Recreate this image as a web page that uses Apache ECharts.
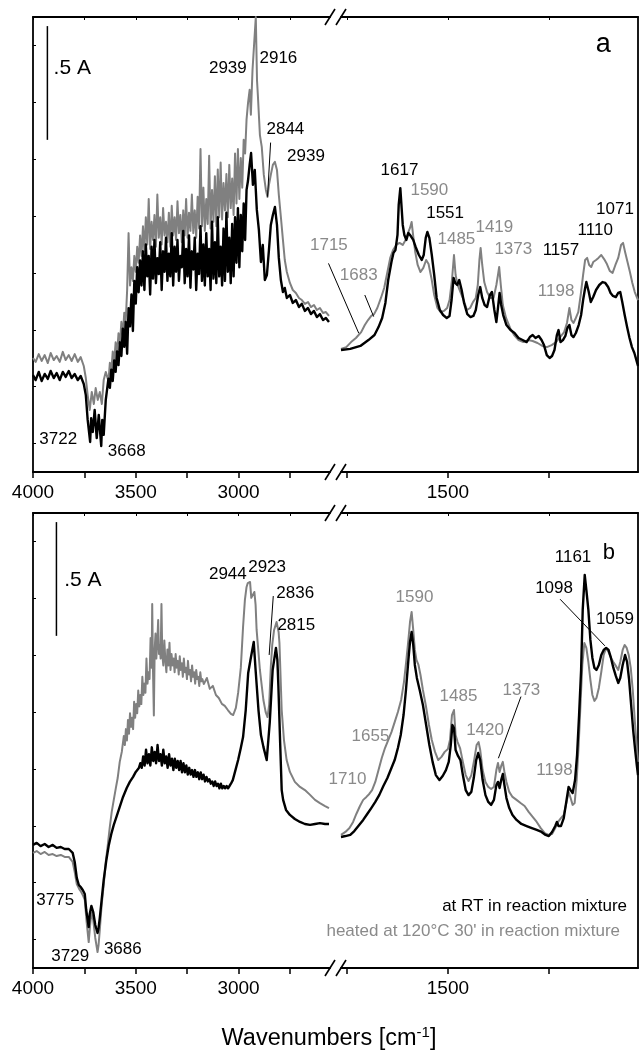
<!DOCTYPE html>
<html>
<head>
<meta charset="utf-8">
<script src="https://cdn.jsdelivr.net/npm/echarts@6/dist/echarts.min.js"></script>
<style>
  html, body { margin: 0; padding: 0; background: #fff; }
  #chart { width: 639px; height: 1055px; }
</style>
</head>
<body>
<div id="chart"></div>
<script>
// ---------------------------------------------------------------------------
// IR spectra, [wavenumber (cm-1), absorbance].  Each panel is split into a
// high-wavenumber window (4000-2555) and an expanded low window (1765-1029).
// ---------------------------------------------------------------------------
const RT = 'at RT in reaction mixture';
const HEAT = "heated at 120°C 30' in reaction mixture";

// panel a, 4000-2555 cm-1
const rtHighA = [[4000,0.426],[3987,0.404],[3972,0.440],[3958,0.400],[3943,0.431],[3928,0.409],[3914,0.444],[3899,0.413],[3885,0.435],[3870,0.404],[3855,0.440],[3841,0.418],[3826,0.444],[3812,0.413],[3797,0.431],[3782,0.404],[3768,0.422],[3753,0.387],[3743,0.338],[3734,0.229],[3722,0.132],[3717,0.237],[3709,0.176],[3700,0.273],[3690,0.149],[3680,0.251],[3668,0.114],[3663,0.229],[3656,0.163],[3646,0.317],
  [3640,0.36],[3633,0.41],[3626,0.37],[3619,0.45],[3612,0.40],[3605,0.49],[3598,0.44],[3591,0.53],[3584,0.47],[3577,0.57],[3570,0.51],[3563,0.63],[3556,0.55],[3549,0.66],[3542,0.52],[3535,0.72],[3528,0.64],[3521,0.78],[3514,0.62],[3507,0.84],[3500,0.74],[3493,0.90],[3486,0.79],[3479,0.93],[3472,0.82],[3465,0.97],[3458,0.80],[3451,1.00],[3444,0.86],[3437,0.95],[3430,0.78],[3423,0.99],[3416,0.85],[3409,1.02],[3402,0.83],[3395,0.94],[3388,0.87],[3381,1.01],[3374,0.80],[3367,0.97],[3360,0.88],[3353,1.03],[3346,0.84],[3339,0.96],[3332,0.86],[3325,1.05],[3318,0.82],[3311,0.99],[3304,0.88],[3297,1.02],[3290,0.84],[3283,0.95],[3276,0.90],[3269,1.06],[3262,0.83],[3255,0.98],[3248,0.86],[3241,1.04],[3234,0.81],[3227,0.97],[3220,0.89],[3213,1.03],[3206,0.80],[3199,0.96],[3192,0.87],[3185,1.08],[3178,0.84],[3171,1.00],[3164,0.82],[3157,1.05],[3150,0.86],[3143,0.98],[3136,0.80],[3129,1.10],[3122,0.85],[3115,1.01],[3108,0.83],[3101,1.12],[3094,0.86],[3087,0.99],[3080,0.82],[3073,1.07],[3066,0.84],[3059,1.14],[3052,0.88],[3045,1.03],[3038,0.83],[3031,1.09],[3024,0.86],[3017,1.12],[3010,0.92],[3003,1.16],[2996,0.90],[2989,1.13],[2982,0.97],[2975,1.18],[2968,1.02],[2961,1.24],[2954,1.28],[2946,1.35],
  [2939,1.402],[2930,1.262],[2921,1.328],[2911,1.152],[2901,1.064],[2891,0.923],[2882,0.998],[2872,0.844],[2862,0.866],[2852,0.976],[2843,1.086],[2833,1.130],[2823,1.165],[2813,1.086],[2804,0.941],[2794,0.844],[2784,0.791],[2775,0.809],[2765,0.765],[2750,0.778],[2736,0.743],[2721,0.756],[2706,0.725],[2692,0.739],[2677,0.708],[2662,0.721],[2648,0.694],[2633,0.708],[2619,0.681],[2604,0.694],[2589,0.668],[2575,0.677],[2560,0.659]];
const heatHighA = [[4000,0.501],[3987,0.484],[3972,0.518],[3958,0.488],[3943,0.514],[3928,0.479],[3914,0.523],[3899,0.492],[3885,0.510],[3870,0.484],[3855,0.528],[3841,0.492],[3826,0.514],[3812,0.488],[3797,0.518],[3782,0.484],[3768,0.505],[3753,0.466],[3743,0.413],[3734,0.338],[3724,0.273],[3714,0.352],[3704,0.299],[3695,0.369],[3685,0.317],[3675,0.352],[3665,0.299],[3656,0.404],[3646,0.440],
  [3640,0.44],[3633,0.40],[3626,0.48],[3619,0.44],[3612,0.53],[3605,0.48],[3598,0.57],[3591,0.52],[3584,0.61],[3577,0.56],[3570,0.66],[3563,0.60],[3556,0.70],[3549,0.66],[3542,0.80],[3535,1.05],[3528,0.82],[3521,0.90],[3514,0.84],[3507,0.95],[3500,0.88],[3493,0.99],[3486,0.92],[3479,1.04],[3472,0.95],[3465,1.08],[3458,0.97],[3451,1.12],[3444,1.00],[3437,1.20],[3430,0.98],[3423,1.10],[3416,1.02],[3409,1.13],[3402,0.99],[3395,1.22],[3388,1.03],[3381,1.12],[3374,1.00],[3367,1.16],[3360,1.04],[3353,1.10],[3346,1.01],[3339,1.14],[3332,0.99],[3325,1.17],[3318,1.04],[3311,1.12],[3304,1.02],[3297,1.19],[3290,1.05],[3283,1.13],[3276,1.01],[3269,1.15],[3262,1.04],[3255,1.20],[3248,1.03],[3241,1.14],[3234,1.06],[3227,1.22],[3220,1.05],[3213,1.15],[3206,1.03],[3199,1.21],[3192,1.07],[3185,1.42],[3178,1.08],[3171,1.25],[3164,1.06],[3157,1.20],[3150,1.09],[3143,1.39],[3136,1.07],[3129,1.24],[3122,1.10],[3115,1.30],[3108,1.08],[3101,1.33],[3094,1.12],[3087,1.36],[3080,1.11],[3073,1.27],[3066,1.15],[3059,1.31],[3052,1.12],[3045,1.35],[3038,1.16],[3031,1.29],[3024,1.13],[3017,1.40],[3010,1.18],[3003,1.42],[2996,1.20],[2989,1.38],[2982,1.25],[2975,1.46],[2968,1.40],[2961,1.55],[2954,1.62],[2946,1.68],[2940,1.57],
  [2932,1.767],[2916,2.000],[2910,1.720],[2906,1.657],[2896,1.481],[2887,1.429],[2877,1.306],[2867,1.240],[2859,1.209],[2852,1.262],[2843,1.306],[2833,1.350],[2823,1.363],[2813,1.328],[2804,1.218],[2794,1.121],[2784,1.020],[2775,0.932],[2765,0.879],[2750,0.831],[2736,0.800],[2721,0.787],[2706,0.765],[2692,0.756],[2677,0.739],[2662,0.747],[2648,0.725],[2633,0.734],[2619,0.712],[2604,0.721],[2589,0.699],[2575,0.703],[2560,0.686]];

// panel a, 1765-1029 cm-1
const rtLowA = [[1765,0.536],[1742,0.541],[1717,0.554],[1697,0.580],[1682,0.602],[1672,0.637],[1663,0.677],[1655,0.743],[1648,0.844],[1640,0.923],[1635,0.963],[1630,0.976],[1625,1.042],[1622,1.174],[1618,1.248],[1612,1.086],[1608,1.042],[1603,1.020],[1598,1.051],[1592,1.037],[1586,1.020],[1580,0.989],[1572,0.954],[1565,0.932],[1560,0.954],[1555,1.029],[1551,1.055],[1546,1.029],[1540,0.954],[1534,0.866],[1528,0.765],[1520,0.712],[1512,0.690],[1503,0.677],[1496,0.686],[1491,0.756],[1486,0.853],[1482,0.831],[1477,0.822],[1472,0.844],[1466,0.800],[1460,0.743],[1452,0.694],[1444,0.681],[1437,0.686],[1431,0.712],[1425,0.778],[1420,0.813],[1415,0.765],[1409,0.734],[1403,0.725],[1396,0.778],[1391,0.791],[1385,0.712],[1380,0.659],[1376,0.721],[1372,0.787],[1368,0.734],[1363,0.690],[1355,0.646],[1345,0.624],[1335,0.611],[1325,0.589],[1315,0.580],[1305,0.571],[1297,0.593],[1290,0.602],[1283,0.589],[1275,0.598],[1268,0.580],[1262,0.558],[1255,0.514],[1248,0.501],[1242,0.510],[1236,0.536],[1230,0.602],[1226,0.624],[1221,0.571],[1215,0.580],[1209,0.598],[1204,0.633],[1199,0.646],[1194,0.602],[1189,0.593],[1183,0.611],[1176,0.646],[1170,0.690],[1165,0.756],[1160,0.809],[1157,0.835],[1151,0.791],[1146,0.747],[1140,0.769],[1133,0.800],[1125,0.822],[1117,0.835],[1110,0.831],[1103,0.813],[1097,0.787],[1091,0.774],[1084,0.769],[1078,0.787],[1073,0.791],[1068,0.747],[1062,0.690],[1056,0.637],[1050,0.589],[1044,0.549],[1038,0.523],[1033,0.492],[1029,0.466]];
const heatLowA = [[1765,0.541],[1752,0.549],[1740,0.571],[1728,0.589],[1715,0.615],[1706,0.646],[1698,0.668],[1690,0.686],[1683,0.694],[1675,0.721],[1666,0.765],[1658,0.809],[1650,0.879],[1643,0.941],[1636,0.976],[1628,0.998],[1620,1.007],[1612,0.998],[1605,1.020],[1598,1.055],[1594,1.073],[1590,1.099],[1586,1.037],[1581,0.967],[1575,0.910],[1568,0.879],[1561,0.897],[1554,0.932],[1548,0.914],[1541,0.853],[1534,0.778],[1526,0.721],[1518,0.703],[1510,0.708],[1502,0.721],[1496,0.756],[1490,0.844],[1485,0.954],[1481,0.866],[1476,0.822],[1469,0.791],[1461,0.756],[1453,0.712],[1445,0.721],[1438,0.747],[1431,0.765],[1426,0.822],[1422,0.932],[1419,0.985],[1415,0.910],[1410,0.835],[1403,0.791],[1395,0.765],[1387,0.765],[1380,0.822],[1376,0.866],[1373,0.901],[1369,0.822],[1364,0.734],[1356,0.677],[1346,0.633],[1336,0.602],[1325,0.580],[1313,0.571],[1302,0.580],[1290,0.576],[1278,0.567],[1266,0.554],[1255,0.549],[1243,0.558],[1232,0.571],[1222,0.593],[1212,0.615],[1205,0.655],[1199,0.721],[1194,0.668],[1189,0.655],[1183,0.677],[1177,0.703],[1171,0.778],[1165,0.866],[1160,0.932],[1155,0.941],[1150,0.910],[1145,0.901],[1140,0.923],[1133,0.932],[1127,0.941],[1120,0.954],[1113,0.936],[1106,0.914],[1099,0.884],[1092,0.875],[1085,0.910],[1078,0.941],[1071,0.998],[1066,1.007],[1061,0.967],[1055,0.923],[1049,0.879],[1043,0.831],[1037,0.791],[1029,0.756]];

// panel b, 4000-2555 cm-1
const rtHighB = [[4000,0.541],[3982,0.550],[3963,0.536],[3943,0.545],[3924,0.532],[3904,0.541],[3885,0.528],[3865,0.532],[3846,0.523],[3826,0.523],[3807,0.506],[3797,0.466],[3787,0.396],[3777,0.365],[3768,0.356],[3758,0.343],[3748,0.325],[3741,0.255],[3729,0.180],[3724,0.237],[3716,0.273],[3707,0.246],[3697,0.189],[3686,0.154],[3681,0.176],[3675,0.220],[3666,0.299],[3656,0.387],[3643,0.475],[3631,0.541],[3618,0.593],[3607,0.629],[3594,0.664],[3578,0.708],[3562,0.752],[3544,0.791],[3529,0.818],[3513,0.840],[3500,0.862],[3485,0.879],
  [3478,0.90],[3471,0.88],[3464,0.93],[3457,0.89],[3450,0.96],[3443,0.90],[3436,0.94],[3429,0.89],[3422,0.97],[3415,0.91],[3408,0.95],[3401,0.90],[3394,0.98],[3387,0.91],[3380,0.94],[3373,0.89],[3366,0.96],[3359,0.90],[3352,0.93],[3345,0.88],[3338,0.94],[3331,0.89],[3324,0.92],[3317,0.87],[3310,0.92],[3303,0.88],[3296,0.91],[3289,0.87],[3282,0.91],[3275,0.86],[3268,0.90],[3261,0.86],[3254,0.89],[3247,0.85],[3240,0.88],[3233,0.85],[3226,0.87],[3219,0.84],[3212,0.87],[3205,0.84],[3198,0.86],[3191,0.83],[3184,0.86],[3177,0.83],[3170,0.85],[3163,0.82],[3156,0.84],[3149,0.82],[3142,0.83],[3135,0.81],[3128,0.82],[3121,0.80],[3114,0.82],[3107,0.80],[3100,0.81],[3093,0.79],[3086,0.81],[3079,0.79],[3072,0.80],[3065,0.79],[3058,0.80],[3051,0.79],[3044,0.80],[3037,0.81],
  [3028,0.826],[3015,0.870],[3002,0.914],[2989,0.967],[2978,1.015],[2965,1.134],[2953,1.297],[2942,1.354],[2926,1.433],[2917,1.310],[2903,1.134],[2891,1.024],[2879,0.972],[2863,0.914],[2855,1.002],[2848,1.081],[2834,1.310],[2818,1.407],[2811,1.354],[2806,1.235],[2798,1.002],[2790,0.782],[2783,0.739],[2769,0.695],[2750,0.673],[2726,0.655],[2701,0.642],[2677,0.633],[2652,0.629],[2628,0.633],[2604,0.637],[2579,0.633],[2560,0.633]];
const heatHighB = [[4000,0.506],[3982,0.514],[3963,0.501],[3943,0.510],[3924,0.497],[3904,0.501],[3885,0.492],[3865,0.497],[3846,0.488],[3826,0.488],[3807,0.466],[3797,0.422],[3787,0.369],[3775,0.347],[3768,0.338],[3758,0.321],[3748,0.299],[3739,0.202],[3729,0.114],[3722,0.189],[3716,0.242],[3707,0.211],[3697,0.132],[3686,0.070],[3681,0.101],[3675,0.167],[3666,0.277],[3656,0.365],[3646,0.466],[3636,0.541],[3627,0.615],[3617,0.686],[3607,0.739],[3597,0.791],[3588,0.835],[3578,0.906],[3568,0.950],[3558,1.02],
  [3553,0.98],[3548,1.05],[3543,1.00],[3538,1.09],[3533,1.03],[3528,1.12],[3523,1.06],[3518,1.10],[3513,1.05],[3508,1.17],[3503,1.10],[3498,1.16],[3493,1.12],[3488,1.22],[3483,1.15],[3478,1.20],[3473,1.16],[3468,1.28],[3463,1.20],[3458,1.25],[3453,1.21],[3448,1.36],[3443,1.25],[3438,1.30],[3433,1.27],[3428,1.45],[3423,1.32],[3420,1.60],[3416,1.30],[3412,1.11],[3408,1.40],[3404,1.47],[3400,1.36],[3395,1.44],[3391,1.53],[3387,1.38],[3383,1.42],[3379,1.36],[3375,1.60],[3371,1.38],[3366,1.33],[3361,1.44],[3356,1.35],[3351,1.30],[3346,1.40],[3341,1.33],[3336,1.43],[3331,1.31],[3326,1.38],[3321,1.33],[3316,1.36],[3311,1.30],[3306,1.38],[3301,1.32],[3296,1.35],[3291,1.29],[3286,1.37],[3281,1.31],[3276,1.34],[3271,1.28],[3266,1.36],[3261,1.30],[3256,1.32],[3251,1.27],[3246,1.35],[3241,1.29],[3236,1.31],[3231,1.26],[3226,1.33],[3221,1.28],[3216,1.30],[3211,1.25],[3206,1.31],[3201,1.27],[3196,1.28],[3191,1.24],[3186,1.30],[3181,1.26],[3176,1.27],
  [3169,1.248],[3154,1.275],[3140,1.227],[3125,1.240],[3110,1.200],[3096,1.187],[3081,1.161],[3067,1.152],[3052,1.134],[3037,1.117],[3026,1.112],[3013,1.143],[3002,1.209],[2989,1.319],[2978,1.499],[2969,1.618],[2961,1.675],[2955,1.692],[2944,1.697],[2938,1.627],[2923,1.653],[2917,1.596],[2912,1.486],[2896,1.310],[2879,1.178],[2868,1.125],[2859,1.103],[2851,1.156],[2843,1.323],[2836,1.420],[2827,1.486],[2815,1.521],[2805,1.477],[2801,1.429],[2790,1.134],[2779,1.002],[2766,0.914],[2750,0.862],[2726,0.818],[2701,0.796],[2677,0.782],[2652,0.761],[2628,0.739],[2604,0.725],[2579,0.712],[2560,0.703]];

// panel b, 1765-1029 cm-1
const rtLowB = [[1765,0.576],[1754,0.580],[1742,0.585],[1732,0.602],[1722,0.624],[1710,0.651],[1700,0.677],[1690,0.703],[1680,0.730],[1670,0.761],[1660,0.800],[1650,0.835],[1640,0.879],[1632,0.914],[1624,0.967],[1617,1.024],[1610,1.112],[1604,1.222],[1598,1.354],[1594,1.433],[1590,1.477],[1586,1.420],[1582,1.332],[1577,1.275],[1570,1.222],[1562,1.156],[1554,1.068],[1546,0.980],[1538,0.906],[1530,0.848],[1521,0.826],[1513,0.844],[1505,0.870],[1498,0.906],[1493,0.980],[1489,1.068],[1485,1.055],[1481,0.958],[1475,0.932],[1469,0.914],[1463,0.848],[1456,0.782],[1449,0.760],[1442,0.774],[1436,0.835],[1430,0.914],[1425,0.945],[1420,0.914],[1414,0.826],[1407,0.760],[1400,0.730],[1393,0.717],[1386,0.739],[1380,0.804],[1376,0.818],[1372,0.791],[1368,0.826],[1364,0.853],[1360,0.804],[1355,0.747],[1348,0.703],[1340,0.673],[1330,0.651],[1318,0.633],[1305,0.624],[1292,0.615],[1280,0.607],[1268,0.598],[1258,0.585],[1250,0.580],[1242,0.598],[1234,0.624],[1230,0.642],[1226,0.624],[1220,0.624],[1213,0.659],[1206,0.739],[1201,0.796],[1196,0.782],[1191,0.769],[1185,0.826],[1180,0.936],[1175,1.112],[1170,1.310],[1166,1.574],[1161,1.728],[1157,1.662],[1152,1.574],[1147,1.442],[1142,1.363],[1137,1.319],[1132,1.310],[1126,1.332],[1120,1.376],[1114,1.398],[1108,1.407],[1102,1.398],[1096,1.363],[1090,1.319],[1084,1.284],[1078,1.253],[1073,1.275],[1067,1.332],[1061,1.376],[1056,1.345],[1051,1.266],[1046,1.156],[1041,1.046],[1036,0.958],[1032,0.892],[1029,0.848]];
const heatLowB = [[1765,0.585],[1754,0.598],[1744,0.615],[1735,0.642],[1727,0.677],[1718,0.712],[1710,0.739],[1702,0.752],[1695,0.765],[1688,0.782],[1680,0.818],[1672,0.870],[1664,0.923],[1656,0.967],[1648,1.002],[1640,1.037],[1632,1.081],[1624,1.125],[1616,1.178],[1609,1.257],[1603,1.354],[1598,1.442],[1594,1.521],[1590,1.565],[1586,1.486],[1582,1.398],[1578,1.354],[1573,1.332],[1568,1.288],[1562,1.222],[1555,1.156],[1547,1.068],[1540,1.002],[1532,0.950],[1524,0.914],[1516,0.928],[1508,0.950],[1500,0.963],[1495,1.002],[1490,1.112],[1485,1.134],[1481,1.024],[1476,0.993],[1470,0.967],[1463,0.906],[1456,0.848],[1449,0.822],[1442,0.848],[1435,0.914],[1429,0.980],[1424,0.993],[1420,0.958],[1414,0.870],[1407,0.818],[1400,0.796],[1393,0.787],[1386,0.796],[1380,0.870],[1376,0.901],[1372,0.862],[1368,0.888],[1364,0.906],[1360,0.862],[1355,0.818],[1348,0.774],[1340,0.752],[1330,0.739],[1320,0.725],[1310,0.712],[1300,0.686],[1290,0.664],[1280,0.642],[1270,0.615],[1260,0.593],[1250,0.585],[1242,0.589],[1234,0.615],[1227,0.642],[1220,0.659],[1213,0.673],[1206,0.730],[1201,0.774],[1196,0.747],[1191,0.717],[1186,0.725],[1181,0.826],[1176,0.980],[1171,1.178],[1167,1.332],[1162,1.429],[1157,1.407],[1152,1.345],[1147,1.266],[1142,1.200],[1137,1.174],[1132,1.187],[1126,1.231],[1120,1.301],[1114,1.376],[1108,1.407],[1102,1.389],[1096,1.363],[1090,1.345],[1084,1.328],[1078,1.310],[1073,1.345],[1067,1.398],[1062,1.420],[1057,1.407],[1052,1.376],[1047,1.319],[1042,1.222],[1037,1.090],[1032,0.967],[1029,0.906]];

// axis ticks and labels
const highTicks = [4000, 3750, 3500, 3250, 3000, 2750];
const highTickLabels = [4000, 3500, 3000];
const lowTicks = [1750, 1500, 1250];
const lowTickLabels = [1500];
const absTicks = [0.125, 0.375, 0.625, 0.875, 1.125, 1.375, 1.625, 1.875];

// band assignments: [window, text, wavenumber, absorbance, colour]
// window: 0 = a high, 1 = a low, 2 = b high, 3 = b low
const bandLabels = [
  [0, '2939', 3052, 1.776, 'k'], [0, '2916', 2806, 1.820, 'k'], [0, '2844', 2772, 1.508, 'k'],
  [0, '2939', 2672, 1.389, 'k'], [0, '3722', 3877, 0.145, 'k'], [0, '3668', 3544, 0.092, 'k'],
  [1, '1715', 1795, 0.998, 'g'], [1, '1683', 1721, 0.866, 'g'], [1, '1617', 1620, 1.325, 'k'],
  [1, '1590', 1546, 1.237, 'g'], [1, '1551', 1507, 1.137, 'k'], [1, '1485', 1479, 1.023, 'g'],
  [1, '1419', 1385, 1.076, 'g'], [1, '1373', 1338, 0.979, 'g'], [1, '1157', 1220, 0.976, 'k'],
  [1, '1198', 1232, 0.796, 'g'], [1, '1110', 1135, 1.064, 'k'], [1, '1071', 1086, 1.155, 'k'],
  [2, '2944', 3052, 1.732, 'k'], [2, '2923', 2861, 1.761, 'k'], [2, '2836', 2724, 1.647, 'k'],
  [2, '2815', 2719, 1.508, 'k'], [2, '3775', 3892, 0.296, 'k'], [2, '3729', 3819, 0.053, 'k'],
  [2, '3686', 3563, 0.082, 'k'],
  [3, '1161', 1190, 1.806, 'k'], [3, '1098', 1237, 1.669, 'k'], [3, '1059', 1086, 1.533, 'k'],
  [3, '1590', 1583, 1.630, 'g'], [3, '1485', 1474, 1.193, 'g'], [3, '1420', 1408, 1.046, 'g'],
  [3, '1373', 1318, 1.219, 'g'], [3, '1655', 1692, 1.017, 'g'], [3, '1710', 1749, 0.830, 'g'],
  [3, '1198', 1236, 0.867, 'g']
];
// leader lines: [window, wn1, abs1, wn2, abs2]
const leaders = [
  [0, 2844, 1.448, 2859, 1.210],
  [1, 1796, 0.917, 1721, 0.610],
  [1, 1706, 0.778, 1684, 0.683],
  [2, 2831, 1.635, 2851, 1.376],
  [3, 1222, 1.621, 1111, 1.416],
  [3, 1319, 1.193, 1375, 0.922]
];
// 0.5 absorbance scale bars: [window, wavenumber, from, to]
const scaleBars = [[0, 3930, 1.96, 1.46], [2, 3886, 1.96, 1.46]];
// panel letters and bar captions: [window, text, wavenumber, absorbance]
const panelTexts = [[1, 'a', 1115, 1.881], [3, 'b', 1101, 1.826]];
const barTexts = [[0, '.5 A', 3809, 1.776], [2, '.5 A', 3757, 1.706]];

// ---------------------------------------------------------------------------
const FONT = '"Liberation Sans", Arial, Helvetica, sans-serif';
const BLACK = '#000000';
const GRAY = '#808080';
const GRAY_TEXT = '#8a8a8a';

const PANEL_TOPS = [17, 513];
const PANEL_H = 455;
const HIGH = { left: 33, width: 297, min: 2555, max: 4000, ticks: highTicks, labels: highTickLabels };
const LOW = { left: 341, width: 297, min: 1029, max: 1765, ticks: lowTicks, labels: lowTickLabels };
const WINDOWS = [HIGH, LOW, HIGH, LOW];

const grids = [], xAxes = [], yAxes = [];
WINDOWS.forEach((w, g) => {
  const top = PANEL_TOPS[g < 2 ? 0 : 1];
  grids.push({ left: w.left, top: top, width: w.width, height: PANEL_H });
  const base = {
    gridIndex: g, type: 'value', inverse: true, min: w.min, max: w.max,
    splitLine: { show: false },
    axisLine: { show: true, onZero: false, lineStyle: { color: BLACK, width: 1.8 } }
  };
  xAxes.push(Object.assign({}, base, {
    position: 'bottom',
    axisTick: { show: true, inside: false, length: 6, customValues: w.ticks, lineStyle: { color: BLACK, width: 1.5 } },
    axisLabel: { show: true, customValues: w.labels, margin: 11, fontSize: 19, color: BLACK, fontFamily: FONT,
      formatter: v => String(v) }
  }));
  xAxes.push(Object.assign({}, base, {
    position: 'top',
    axisTick: { show: true, inside: true, length: 3, customValues: w.ticks, lineStyle: { color: BLACK, width: 1 } },
    axisLabel: { show: false }
  }));
  yAxes.push({
    gridIndex: g, type: 'value', min: 0, max: 2,
    position: w === HIGH ? 'left' : 'right',
    splitLine: { show: false },
    axisLabel: { show: false },
    axisLine: { show: true, onZero: false, lineStyle: { color: BLACK, width: 1.8 } },
    axisTick: w === HIGH
      ? { show: true, inside: true, length: 3, customValues: absTicks, lineStyle: { color: BLACK, width: 1 } }
      : { show: false }
  });
});

function spectrum(name, data, g, color, width) {
  return {
    name: name, type: 'line', data: data,
    xAxisIndex: g * 2, yAxisIndex: g,
    showSymbol: false, symbol: 'none', smooth: false, silent: true,
    lineStyle: { color: color, width: width, join: 'round' },
    itemStyle: { color: color },
    emphasis: { disabled: true }
  };
}

const series = [
  spectrum(HEAT, heatHighA, 0, GRAY, 2), spectrum(RT, rtHighA, 0, BLACK, 2.4),
  spectrum(HEAT, heatLowA, 1, GRAY, 2), spectrum(RT, rtLowA, 1, BLACK, 2.4),
  spectrum(HEAT, heatHighB, 2, GRAY, 2), spectrum(RT, rtHighB, 2, BLACK, 2.4),
  spectrum(HEAT, heatLowB, 3, GRAY, 2), spectrum(RT, rtLowB, 3, BLACK, 2.4)
];
// first series drawn in each window, used for coordinate conversion
const WINDOW_SERIES = [0, 2, 4, 6];

const legendBase = {
  orient: 'vertical', icon: 'none', itemWidth: 0, itemHeight: 0, itemGap: 0,
  padding: 0, selectedMode: false, align: 'left'
};

const chart = echarts.init(document.getElementById('chart'), null, { renderer: 'canvas' });
chart.setOption({
  animation: false,
  backgroundColor: '#ffffff',
  grid: grids,
  xAxis: xAxes,
  yAxis: yAxes,
  legend: [
    Object.assign({}, legendBase, { data: [RT], right: 12, top: 898,
      textStyle: { color: BLACK, fontSize: 17, fontFamily: FONT } }),
    Object.assign({}, legendBase, { data: [HEAT], right: 19, top: 923,
      textStyle: { color: GRAY_TEXT, fontSize: 17, fontFamily: FONT } })
  ],
  series: series
});

// ---- annotations placed in data coordinates --------------------------------
function px(win, wn, a) {
  return chart.convertToPixel({ seriesIndex: WINDOW_SERIES[win] }, [wn, a]);
}
function label(p, text, color, size) {
  return {
    type: 'text', x: p[0], y: p[1], silent: true, z: 10,
    style: { text: text, fill: color, fontSize: size, fontFamily: FONT, align: 'center', verticalAlign: 'middle' }
  };
}
const graphics = [];
bandLabels.forEach(([w, t, wn, a, c]) => {
  graphics.push(label(px(w, wn, a), t, c === 'g' ? GRAY_TEXT : BLACK, 17));
});
leaders.forEach(([w, wn1, a1, wn2, a2]) => {
  const p1 = px(w, wn1, a1), p2 = px(w, wn2, a2);
  graphics.push({ type: 'line', silent: true, z: 10,
    shape: { x1: p1[0], y1: p1[1], x2: p2[0], y2: p2[1] },
    style: { stroke: BLACK, lineWidth: 1 } });
});
scaleBars.forEach(([w, wn, a1, a2]) => {
  const p1 = px(w, wn, a1), p2 = px(w, wn, a2);
  graphics.push({ type: 'line', silent: true, z: 10,
    shape: { x1: p1[0], y1: p1[1], x2: p2[0], y2: p2[1] },
    style: { stroke: BLACK, lineWidth: 1.5 } });
});
barTexts.forEach(([w, t, wn, a]) => graphics.push(label(px(w, wn, a), t, BLACK, 21)));
panelTexts.forEach(([w, t, wn, a]) => graphics.push(label(px(w, wn, a), t, BLACK, t === 'a' ? 27 : 22)));

// axis break marks where the two windows meet
const breakXs = [HIGH.left + HIGH.width, LOW.left];
PANEL_TOPS.forEach(top => {
  [top, top + PANEL_H].forEach(y => {
    breakXs.forEach(x => {
      graphics.push({ type: 'line', silent: true, z: 12,
        shape: { x1: x - 5, y1: y + 8, x2: x + 5, y2: y - 8 },
        style: { stroke: BLACK, lineWidth: 1.6 } });
    });
  });
});

// shared x-axis title
graphics.push({
  type: 'text', x: 329, y: 1039, silent: true,
  style: {
    text: '{t|Wavenumbers [cm}{s|-1}{t|]}',
    align: 'center', verticalAlign: 'middle',
    rich: {
      t: { fontSize: 23.5, fontFamily: FONT, fill: BLACK, color: BLACK, lineHeight: 28 },
      s: { fontSize: 15, fontFamily: FONT, fill: BLACK, color: BLACK, verticalAlign: 'top', lineHeight: 28 }
    }
  }
});

chart.setOption({ graphic: graphics });
</script>
</body>
</html>
